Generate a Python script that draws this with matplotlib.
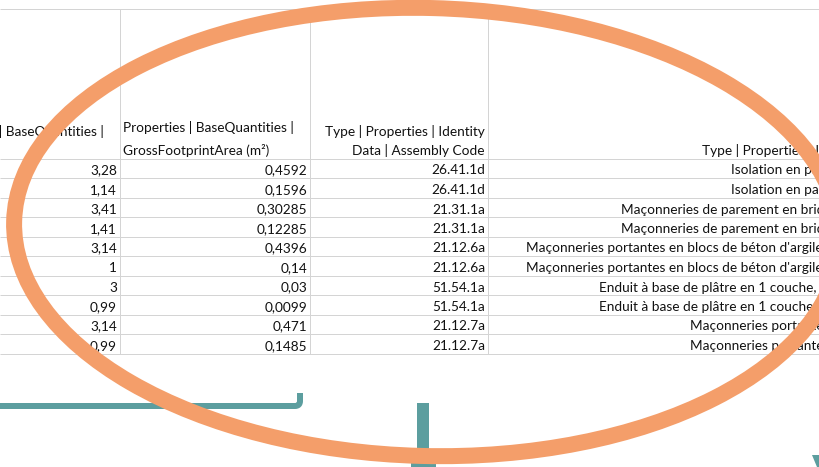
import matplotlib
matplotlib.use("Agg")
import matplotlib.pyplot as plt
from matplotlib.patches import Ellipse, Polygon, Rectangle, PathPatch
from matplotlib.path import Path

# ---------------- data ----------------
length_m = ["3,28", "1,14", "3,41", "1,41", "3,14", "1", "3", "0,99", "3,14", "0,99"]
area_m2 = ["0,4592", "0,1596", "0,30285", "0,12285", "0,4396", "0,14", "0,03", "0,0099", "0,471", "0,1485"]
assembly_code = ["26.41.1d", "26.41.1d", "21.31.1a", "21.31.1a", "21.12.6a",
                 "21.12.6a", "51.54.1a", "51.54.1a", "21.12.7a", "21.12.7a"]
desc_codes = ["26.41.1d", "21.31.1a", "21.12.6a", "51.54.1a", "21.12.7a"]
desc_texts = [
    "Isolation en panneaux de laine de roche, ép. 12 cm",
    "Maçonneries de parement en briques de terre cuite, joints au mortier",
    "Maçonneries portantes en blocs de béton d'argile expansé, maçonnées au mortier fin",
    "Enduit à base de plâtre en 1 couche, sur la maçonnerie, épaisseur 15 mm",
    "Maçonneries portantes en blocs de béton cellulaire collés",
]
header_length = ["Properties | BaseQuantities |", "Length (m)"]
header_area = ["Properties | BaseQuantities |", "GrossFootprintArea (m²)"]
header_code = ["Type | Properties | Identity", "Data | Assembly Code"]
header_desc = ["Type | Properties | Identity Data | Assembly Description"]

# ---------------- layout ----------------
plt.rcParams['font.family'] = ['Lato', 'DejaVu Sans']
W, H = 819, 467
PT = 0.72  # points per pixel at dpi 100
fig = plt.figure(figsize=(W / 100, H / 100), dpi=100)
ax = fig.add_axes([0, 0, 1, 1])
ax.set_xlim(0, W)
ax.set_ylim(H, 0)
ax.axis('off')

grid_color = "#d4d4d4"
text_color = "#111111"
orange = "#F49E6A"
teal = "#5C9E9F"
fs = 9.8

col_edges = [-70, 120, 310, 488, 1038]
top_line = 8.5
header_bottom = 158.5
row_h = 19.5
n = len(length_m)
row_lines = [header_bottom + i * row_h for i in range(n + 1)]
table_bottom = row_lines[-1]

# grid
ax.hlines([top_line] + row_lines, 0, W, colors=grid_color, lw=1 * PT, zorder=1)
ax.vlines(col_edges[1:4], top_line, table_bottom, colors=grid_color, lw=1 * PT, zorder=1)

pad = 3
base_off = 3.5

def txt(x, y, s, ha):
    ax.text(x, y, s, ha=ha, va='baseline', fontsize=fs, color=text_color, zorder=2)

# headers (bottom-aligned, wrapped)
hb = header_bottom - base_off
txt(col_edges[0] + pad, hb - 19, header_length[0], 'left')
txt(col_edges[0] + pad, hb, header_length[1], 'left')
txt(col_edges[1] + pad, hb - 23, header_area[0], 'left')
txt(col_edges[1] + pad, hb, header_area[1], 'left')
txt(col_edges[3] - pad, hb - 19, header_code[0], 'right')
txt(col_edges[3] - pad, hb, header_code[1], 'right')
txt(col_edges[4] - pad, hb, header_desc[0], 'right')

desc_lookup = dict(zip(desc_codes, desc_texts))
for i in range(n):
    yb = row_lines[i + 1] - base_off
    txt(col_edges[1] - pad, yb, length_m[i], 'right')
    txt(col_edges[2] - pad, yb, area_m2[i], 'right')
    txt(col_edges[3] - pad, yb, assembly_code[i], 'right')
    txt(col_edges[4] - pad, yb, desc_lookup[assembly_code[i]], 'right')

# teal brackets
verts = [(0, 406), (295, 406), (300, 406), (300, 401), (300, 393)]
codes = [Path.MOVETO, Path.LINETO, Path.CURVE3, Path.CURVE3, Path.LINETO]
ax.add_patch(PathPatch(Path(verts, codes), fill=False, ec=teal, lw=6 * PT,
                       capstyle='butt', joinstyle='round', zorder=3))
ax.add_patch(Rectangle((417, 403), 12, 64, fc=teal, ec='none', zorder=3))
ax.add_patch(Rectangle((411, 458), 25, 9, fc=teal, ec='none', zorder=3))
ax.add_patch(Polygon([(812, 455), (819, 455), (819, 467), (817, 467)],
                     closed=True, fc=teal, ec='none', zorder=3))

# orange ellipse
ax.add_patch(Ellipse((427, 232), 2 * 413, 2 * 224, angle=1.5, fill=False,
                     ec=orange, lw=16 * PT, zorder=4))

fig.savefig("out.png", dpi=100)
